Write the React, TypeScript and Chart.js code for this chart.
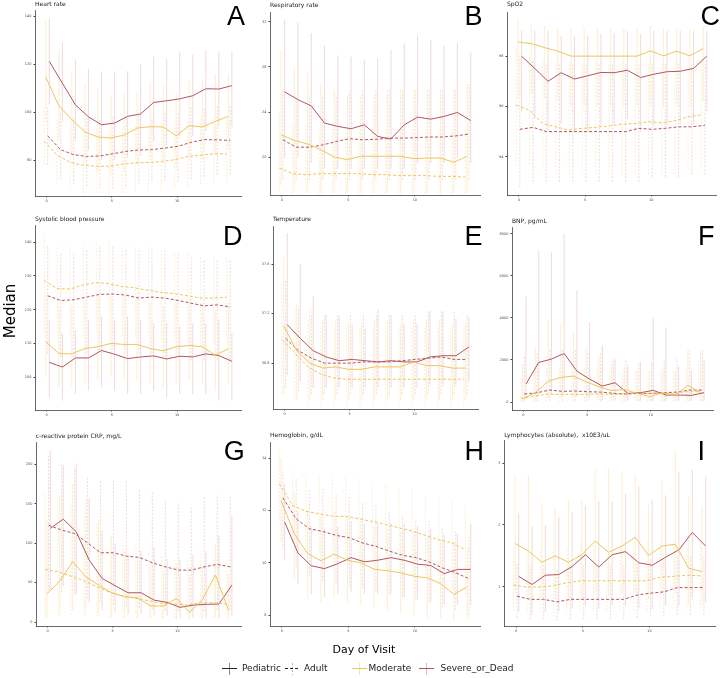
import React, { useEffect, useRef } from "react";
import { Chart, registerables } from "chart.js";

Chart.register(...registerables);

// ---------------- data ----------------
const DAYS = [0, 1, 2, 3, 4, 5, 6, 7, 8, 9, 10, 11, 12, 13, 14];
const X_TICKS = [0, 5, 10];

// A Heart rate
const hrPedSev = [121.1, 112, 103, 98, 94.7, 95.4, 98.2, 99.2, 104, 104.7, 105.5, 106.8, 109.7, 109.6, 111];
const hrPedSevHi = [139, 129, 122, 118, 117, 117, 117, 120, 123, 122, 125, 124, 126, 125, 125];
const hrPedSevLo = [103, 96, 88, 84, 80, 80, 81, 82, 88, 86, 90, 90, 92, 94, 94];
const hrPedMod = [114.6, 102.6, 96.8, 91.7, 89.6, 89.2, 90.4, 93.3, 93.9, 93.8, 90.1, 94.3, 93.8, 96.1, 98.2];
const hrPedModHi = [138, 126, 117, 112, 110, 107, 108, 108, 112, 111, 108, 113, 114, 116, 116];
const hrPedModLo = [96, 88, 82, 78, 75, 74, 75, 78, 80, 78, 76, 80, 80, 82, 84];
const hrAdSev = [90.1, 84.3, 82.2, 81.5, 81.7, 82.6, 83.6, 84.2, 84.3, 85, 85.7, 87.4, 88.5, 88.4, 88.2];
const hrAdSevHi = [102, 100, 98, 98, 97, 98, 98, 99, 99, 100, 100, 102, 102, 103, 103];
const hrAdSevLo = [78, 72, 70, 69, 68, 68, 69, 70, 71, 71, 71, 72, 73, 74, 74];
const hrAdMod = [87.8, 82, 79, 77.8, 77.4, 77.4, 78.3, 78.8, 79, 79.4, 80.1, 81.5, 82, 82.6, 82.6];
const hrAdModHi = [102, 97, 95, 94, 93, 93, 94, 94, 95, 95, 96, 97, 98, 98, 98];
const hrAdModLo = [78, 70, 68, 66, 66, 66, 66, 67, 67, 67, 68, 69, 70, 70, 70];
const hrTicks = [80, 100, 120, 140];

// B Respiratory rate
const rrPedSev = [25.8, 25.1, 24.56, 23.03, 22.74, 22.53, 22.88, 21.85, 21.62, 22.88, 23.56, 23.38, 23.62, 23.97, 23.26];
const rrPedSevHi = [32.2, 31.9, 31, 29.9, 29, 28.9, 28.6, 28.8, 29.5, 30.1, 30.8, 30.4, 29.9, 30.1, 29.3];
const rrPedSevLo = [20, 20, 19.5, 19, 19, 19, 19, 19, 19, 19, 19.5, 19.5, 19.5, 20, 19.5];
const rrPedMod = [22, 21.5, 21.18, 20.68, 20.03, 19.8, 20.1, 20.1, 20.1, 20.1, 19.88, 19.94, 19.94, 19.56, 20.1];
const rrPedModHi = [29.5, 28, 27.5, 26.5, 26, 25.5, 25.5, 25.5, 26, 26, 26, 26, 26, 26, 26.5];
const rrPedModLo = [17.5, 17, 17, 16.8, 16.8, 16.8, 16.8, 16.8, 16.8, 16.8, 16.8, 16.8, 16.8, 16.8, 16.8];
const rrAdSev = [21.56, 20.9, 20.9, 21.1, 21.4, 21.65, 21.56, 21.6, 21.7, 21.7, 21.74, 21.8, 21.8, 21.9, 22.06];
const rrAdSevHi = [26, 25.5, 25.5, 25.5, 25.5, 26, 26, 26, 26, 26, 26, 26, 26, 26, 26.5];
const rrAdSevLo = [18, 18, 18, 18, 18, 18, 18, 18, 18, 18, 18, 18, 18, 18, 18];
const rrAdMod = [19.06, 18.56, 18.47, 18.56, 18.56, 18.56, 18.56, 18.47, 18.47, 18.38, 18.38, 18.38, 18.32, 18.32, 18.26];
const rrAdModHi = [24, 23, 23, 22.5, 22.5, 22.5, 22.5, 22.5, 22.5, 22.5, 22.5, 22.5, 22.5, 22.5, 22.5];
const rrAdModLo = [17, 16.8, 16.8, 16.8, 16.8, 16.8, 16.8, 16.8, 16.8, 16.8, 16.8, 16.8, 16.8, 16.8, 16.8];
const rrTicks = [20, 24, 28, 32];

// C SpO2
const spPedMod = [98.56, 98.5, 98.34, 98.2, 98, 98, 98, 98, 98, 98, 98.21, 98.01, 98.2, 98.01, 98.3];
const spPedModHi = [99.5, 99.3, 99.2, 99.1, 99.1, 99.1, 99.1, 99.1, 99.1, 99.1, 99.2, 99.1, 99.1, 99.1, 99.2];
const spPedModLo = [96.3, 96.5, 96.3, 96.2, 96, 96, 96, 96, 96, 96, 96, 96, 96, 96, 96.2];
const spPedSev = [98, 97.51, 97, 97.34, 97.09, 97.22, 97.35, 97.34, 97.44, 97.15, 97.28, 97.38, 97.4, 97.51, 98];
const spPedSevHi = [99, 99, 99, 98.8, 98.8, 98.8, 98.9, 98.9, 99, 98.9, 99, 99, 99, 99, 99];
const spPedSevLo = [95.8, 95.5, 95, 95.3, 95, 95, 95.2, 95.3, 95.5, 95, 95.2, 95.2, 95.3, 95.3, 95.8];
const spAdMod = [96.05, 95.85, 95.32, 95.19, 95.06, 95.13, 95.17, 95.22, 95.3, 95.32, 95.39, 95.35, 95.43, 95.59, 95.66];
const spAdModHi = [98.3, 98, 97.8, 97.8, 97.8, 97.8, 97.8, 97.8, 97.8, 97.8, 97.8, 97.8, 97.9, 98, 98];
const spAdModLo = [93.8, 93.7, 93.5, 93.3, 93.3, 93.3, 93.3, 93.3, 93.3, 93.3, 93.3, 93.3, 93.3, 93.5, 93.5];
const spAdSev = [95.09, 95.17, 95, 95, 95, 95, 95, 95, 95, 95.13, 95.09, 95.13, 95.19, 95.19, 95.25];
const spAdSevHi = [98, 97.8, 97.7, 97.7, 97.7, 97.7, 97.7, 97.7, 97.7, 97.7, 97.7, 97.7, 97.7, 97.7, 97.8];
const spAdSevLo = [92.8, 93, 93, 93, 93, 93, 93, 93, 93, 93, 93.2, 93.2, 93.2, 93.3, 93.3];
const spTicks = [94, 96, 98];

// D Systolic blood pressure
const sbpAdMod = [128.6, 126.2, 126.1, 127.3, 128, 127.6, 126.8, 126.4, 125.7, 125.1, 124.7, 124.1, 123.4, 123.4, 123.7];
const sbpAdModHi = [143, 139, 139, 140, 140, 140, 139, 139, 139, 138, 137, 137, 136, 136, 136];
const sbpAdModLo = [113, 112, 112, 112, 113, 113, 112, 112, 112, 111, 111, 111, 110, 110, 110];
const sbpAdSev = [124.1, 122.7, 122.9, 123.7, 124.5, 124.6, 124.3, 123.4, 123.7, 123.4, 122.7, 121.9, 121.1, 121.4, 120.8];
const sbpAdSevHi = [139, 137, 137, 138, 139, 139, 138, 138, 138, 138, 137, 136, 135, 135, 135];
const sbpAdSevLo = [107, 106, 106, 107, 108, 108, 107, 107, 107, 106, 106, 105, 105, 105, 105];
const sbpPedMod = [110.5, 107, 106.9, 108.5, 109, 110, 109.7, 109.7, 108.5, 107.8, 109, 109.4, 109, 106.5, 108.4];
const sbpPedModHi = [125, 121, 121, 123, 124, 124, 124, 124, 122, 121, 122, 123, 122, 120, 122];
const sbpPedModLo = [100, 97, 97, 98, 99, 100, 99, 99, 98, 97, 98, 99, 98, 96, 98];
const sbpPedSev = [104.4, 103, 105.7, 105.7, 107.9, 106.8, 105.5, 106, 106.3, 105.4, 106.2, 106, 106.9, 106.4, 104.7];
const sbpPedSevHi = [117, 113, 114, 117, 118, 117, 118, 117, 116, 116, 115, 116, 116, 117, 113];
const sbpPedSevLo = [94, 93, 95, 96, 97, 96, 95, 95, 96, 94, 95, 95, 95, 93, 93];
const sbpTicks = [100, 110, 120, 130, 140];

// E Temperature
const tPedSev = [37.11, 37.0, 36.9, 36.85, 36.82, 36.83, 36.82, 36.81, 36.82, 36.81, 36.81, 36.85, 36.86, 36.86, 36.93];
const tPedSevHi = [37.85, 37.6, 37.34, 37.19, 37.18, 37.11, 37.08, 37.23, 37.19, 37.12, 37.12, 37.22, 37.22, 37.16, 37.17];
const tPedSevLo = [36.7, 36.65, 36.6, 36.6, 36.6, 36.6, 36.6, 36.6, 36.6, 36.6, 36.6, 36.62, 36.62, 36.62, 36.65];
const tPedMod = [37.1, 36.9, 36.8, 36.76, 36.77, 36.75, 36.75, 36.77, 36.77, 36.77, 36.81, 36.78, 36.78, 36.76, 36.76];
const tPedModHi = [37.66, 37.27, 37.23, 37.15, 37.15, 37.12, 37.12, 37.15, 37.15, 37.12, 37.15, 37.15, 37.15, 37.12, 37.12];
const tPedModLo = [36.55, 36.5, 36.5, 36.5, 36.5, 36.5, 36.5, 36.5, 36.5, 36.5, 36.5, 36.5, 36.5, 36.5, 36.5];
const tAdSev = [37.0, 36.9, 36.84, 36.8, 36.8, 36.8, 36.81, 36.81, 36.81, 36.82, 36.83, 36.84, 36.85, 36.83, 36.83];
const tAdSevHi = [37.47, 37.25, 37.2, 37.2, 37.2, 37.2, 37.2, 37.2, 37.2, 37.2, 37.2, 37.22, 37.22, 37.22, 37.2];
const tAdSevLo = [36.6, 36.57, 36.55, 36.55, 36.55, 36.55, 36.55, 36.55, 36.55, 36.55, 36.55, 36.55, 36.55, 36.55, 36.55];
const tAdMod = [36.99, 36.88, 36.77, 36.71, 36.68, 36.67, 36.67, 36.67, 36.67, 36.67, 36.67, 36.67, 36.67, 36.67, 36.67];
const tAdModHi = [37.45, 37.25, 37.15, 37.1, 37.1, 37.1, 37.1, 37.1, 37.1, 37.1, 37.1, 37.1, 37.1, 37.1, 37.1];
const tAdModLo = [36.55, 36.5, 36.45, 36.45, 36.45, 36.45, 36.45, 36.45, 36.45, 36.45, 36.45, 36.45, 36.45, 36.45, 36.45];
const tTicks = [36.8, 37.2, 37.6];

// F BNP
const bnpPedSev = [854, 1881, 2040, 2308, 1470, 1091, 759, 917, 411, 443, 553, 332, 332, 316, 443];
const bnpPedSevHi = [5000, 7200, 7100, 8000, 5300, 3800, 2700, 2050, 1700, 1900, 4000, 3550, 1700, 1500, 2000];
const bnpPedSevLo = [100, 300, 400, 400, 250, 200, 100, 100, 80, 60, 60, 60, 60, 60, 60];
const bnpPedMod = [158, 443, 980, 1170, 1233, 964, 727, 537, 601, 411, 253, 443, 316, 790, 443];
const bnpPedModHi = [1800, 2600, 3900, 3700, 3300, 2600, 2200, 1900, 1700, 1500, 1500, 1600, 1500, 2500, 2400];
const bnpPedModLo = [30, 60, 150, 200, 200, 150, 100, 80, 80, 60, 50, 60, 50, 80, 60];
const bnpAdSev = [379, 443, 569, 506, 522, 490, 474, 411, 379, 411, 411, 443, 474, 569, 569];
const bnpAdSevHi = [2200, 2300, 2500, 2500, 2500, 2400, 2300, 2100, 2000, 1900, 1900, 2000, 2100, 2400, 2500];
const bnpAdSevLo = [50, 50, 50, 50, 50, 50, 50, 50, 50, 50, 50, 50, 50, 50, 50];
const bnpAdMod = [158, 285, 364, 364, 364, 364, 379, 364, 379, 411, 411, 395, 395, 490, 490];
const bnpAdModHi = [1200, 1500, 1700, 1700, 1700, 1600, 1600, 1500, 1500, 1500, 1500, 1500, 1500, 1700, 1800];
const bnpAdModLo = [20, 20, 20, 20, 20, 20, 20, 20, 20, 20, 20, 20, 20, 20, 20];
const bnpTicks = [0, 2000, 4000, 6000, 8000];

// G CRP
const crpPedSev = [118.6, 130.4, 114.3, 78.5, 55.3, 46, 37.1, 37.1, 27.8, 24.9, 18.6, 21.5, 22.4, 22.8, 46.8];
const crpPedSevHi = [218, 199, 201, 157, 116, 100, 85, 90, 95, 80, 80, 85, 90, 110, 135];
const crpPedSevLo = [40, 45, 35, 25, 15, 12, 10, 10, 8, 8, 5, 5, 5, 5, 8];
const crpPedMod = [35.4, 51.9, 76.4, 57.4, 46.8, 37.1, 32.1, 30.8, 20.3, 20.3, 30, 12.2, 28.7, 59.5, 15.2];
const crpPedModHi = [130, 160, 175, 155, 130, 110, 90, 80, 70, 65, 75, 60, 70, 100, 60];
const crpPedModLo = [5, 8, 15, 10, 8, 6, 5, 5, 4, 4, 4, 3, 4, 6, 3];
const crpAdSev = [122.8, 116.5, 112.2, 100.4, 87.8, 87.8, 83.5, 81.9, 75.1, 70, 65.8, 65.8, 70, 73, 70];
const crpAdSevHi = [210, 200, 195, 185, 180, 180, 180, 168, 165, 155, 152, 145, 160, 162, 160];
const crpAdSevLo = [40, 38, 35, 30, 25, 22, 20, 18, 16, 15, 14, 14, 14, 15, 15];
const crpAdMod = [66.7, 63.7, 58.2, 52.3, 44.7, 37.6, 32.9, 30, 27, 23.6, 22.8, 21.5, 24.5, 24.5, 22.8];
const crpAdModHi = [165, 160, 150, 140, 125, 110, 100, 95, 90, 85, 80, 80, 90, 85, 80];
const crpAdModLo = [10, 10, 9, 8, 7, 6, 6, 5, 5, 5, 5, 5, 5, 5, 5];
const crpTicks = [0, 50, 100, 150, 200];

// H Hemoglobin
const hbAdMod = [13.02, 12.19, 11.97, 11.87, 11.78, 11.77, 11.68, 11.58, 11.47, 11.34, 11.21, 11.05, 10.88, 10.76, 10.5];
const hbAdModHi = [14.2, 13.5, 13.3, 13.3, 13.3, 13.3, 13.2, 13.1, 13.0, 12.9, 12.8, 12.6, 12.5, 12.4, 12.2];
const hbAdModLo = [11.6, 10.8, 10.6, 10.4, 10.3, 10.2, 10.1, 10.0, 9.8, 9.7, 9.5, 9.4, 9.2, 9.0, 8.8];
const hbAdSev = [12.48, 11.68, 11.3, 11.2, 11.05, 10.96, 10.76, 10.63, 10.45, 10.29, 10.2, 10.04, 9.81, 9.62, 9.4];
const hbAdSevHi = [13.5, 13.2, 12.8, 12.8, 12.6, 12.5, 12.3, 12.2, 12.0, 11.8, 11.7, 11.6, 11.3, 11.2, 11.0];
const hbAdSevLo = [10.5, 9.8, 9.5, 9.3, 9.2, 9.1, 9.0, 8.9, 8.8, 8.7, 8.6, 8.5, 8.3, 8.2, 8.0];
const hbPedMod = [12.38, 11.11, 10.36, 10.08, 10.33, 10.1, 10.0, 9.76, 9.7, 9.62, 9.49, 9.43, 9.21, 8.8, 9.08];
const hbPedModHi = [14, 12.7, 12, 11.8, 12, 11.7, 11.6, 11.4, 11.3, 11.2, 11.1, 11, 10.9, 10.8, 10.6];
const hbPedModLo = [10.8, 9.4, 8.6, 8.5, 8.7, 8.5, 8.4, 8.3, 8.2, 8.1, 8.0, 7.9, 7.9, 7.8, 7.9];
const hbPedSev = [11.56, 10.38, 9.89, 9.78, 9.97, 10.2, 10.04, 10.1, 10.2, 10.1, 9.95, 9.9, 9.59, 9.75, 9.75];
const hbPedSevHi = [13, 12, 11.4, 11.3, 11.4, 11.6, 11.5, 11.5, 11.5, 11.5, 11.4, 11.3, 11.1, 11.1, 11.5];
const hbPedSevLo = [10.1, 9.2, 8.8, 8.7, 8.8, 8.9, 8.8, 8.8, 8.8, 8.7, 8.6, 8.5, 8.4, 8.4, 8.4];
const hbTicks = [8, 10, 12, 14];

// I Lymphocytes
const lyPedMod = [1.7, 1.58, 1.4, 1.5, 1.4, 1.52, 1.74, 1.56, 1.66, 1.8, 1.51, 1.66, 1.69, 1.3, 1.25];
const lyPedModHi = [2.81, 2.81, 2.35, 2.28, 2.4, 2.4, 2.89, 2.91, 2.86, 2.81, 2.32, 2.7, 3.21, 2.46, 2.31];
const lyPedModLo = [0.9, 0.85, 0.8, 0.8, 0.8, 0.8, 0.9, 0.85, 0.9, 0.9, 0.8, 0.9, 0.9, 0.7, 0.7];
const lyPedSev = [1.17, 1.04, 1.19, 1.2, 1.33, 1.52, 1.32, 1.52, 1.57, 1.39, 1.35, 1.48, 1.6, 1.88, 1.66];
const lyPedSevHi = [2.19, 1.97, 2.0, 2.13, 2.21, 2.32, 2.38, 2.38, 2.51, 2.62, 2.4, 2.48, 2.86, 2.89, 2.78];
const lyPedSevLo = [0.6, 0.55, 0.6, 0.6, 0.65, 0.7, 0.65, 0.7, 0.7, 0.65, 0.65, 0.7, 0.7, 0.8, 0.75];
const lyAdMod = [1.03, 1.0, 1.0, 1.02, 1.07, 1.1, 1.1, 1.1, 1.1, 1.1, 1.1, 1.16, 1.17, 1.19, 1.18];
const lyAdModHi = [1.6, 1.6, 1.6, 1.6, 1.65, 1.7, 1.7, 1.7, 1.7, 1.7, 1.7, 1.75, 1.75, 1.75, 1.75];
const lyAdModLo = [0.6, 0.58, 0.58, 0.58, 0.6, 0.62, 0.62, 0.62, 0.62, 0.62, 0.62, 0.65, 0.65, 0.65, 0.65];
const lyAdSev = [0.85, 0.8, 0.8, 0.76, 0.8, 0.8, 0.8, 0.8, 0.8, 0.87, 0.9, 0.92, 0.99, 0.99, 0.99];
const lyAdSevHi = [1.4, 1.35, 1.35, 1.3, 1.35, 1.35, 1.35, 1.35, 1.35, 1.4, 1.45, 1.45, 1.5, 1.5, 1.5];
const lyAdSevLo = [0.5, 0.48, 0.48, 0.45, 0.48, 0.48, 0.48, 0.48, 0.48, 0.5, 0.52, 0.52, 0.55, 0.55, 0.55];
const lyTicks = [1, 2, 3];

// ---------------- style ----------------
const MOD = "#EEC55C";
const SEV = "#B0575D";
const MOD_ERR = "rgba(240, 200, 95, 0.28)";
const SEV_ERR = "rgba(176, 87, 93, 0.2)";
const FONT = "'DejaVu Sans', sans-serif";
const X_MIN = -0.9;
const X_MAX = 14.9;
const YW = 22;
const XH = 10;
const PT = 4;
const PR = 4;

type Series = { vals: number[]; lo: number[]; hi: number[] };
type PanelCfg = {
  title: string;
  letter: string;
  letterLeft: number;
  letterTop: number;
  rect: [number, number, number, number];
  titleTop: number;
  yMin: number;
  yMax: number;
  yTicks: number[];
  pedMod: Series;
  pedSev: Series;
  adMod: Series;
  adSev: Series;
};

const s = (vals: number[], lo: number[], hi: number[]): Series => ({ vals, lo, hi });

const PANELS: PanelCfg[] = [
  { title: "Heart rate", letter: "A", letterLeft: 227, letterTop: 3.2, rect: [35, 10, 241, 196], titleTop: 1, yMin: 65, yMax: 142.5, yTicks: hrTicks,
    pedMod: s(hrPedMod, hrPedModLo, hrPedModHi), pedSev: s(hrPedSev, hrPedSevLo, hrPedSevHi), adMod: s(hrAdMod, hrAdModLo, hrAdModHi), adSev: s(hrAdSev, hrAdSevLo, hrAdSevHi) },
  { title: "Respiratory rate", letter: "B", letterLeft: 464.6, letterTop: 3.2, rect: [270, 11.7, 479.7, 195], titleTop: 2, yMin: 16.67, yMax: 32.85, yTicks: rrTicks,
    pedMod: s(rrPedMod, rrPedModLo, rrPedModHi), pedSev: s(rrPedSev, rrPedSevLo, rrPedSevHi), adMod: s(rrAdMod, rrAdModLo, rrAdModHi), adSev: s(rrAdSev, rrAdSevLo, rrAdSevHi) },
  { title: "SpO2", letter: "C", letterLeft: 700.4, letterTop: 3.2, rect: [507, 12, 715.6, 195], titleTop: 1, yMin: 92.48, yMax: 99.75, yTicks: spTicks,
    pedMod: s(spPedMod, spPedModLo, spPedModHi), pedSev: s(spPedSev, spPedSevLo, spPedSevHi), adMod: s(spAdMod, spAdModLo, spAdModHi), adSev: s(spAdSev, spAdSevLo, spAdSevHi) },
  { title: "Systolic blood pressure", letter: "D", letterLeft: 222.9, letterTop: 223.2, rect: [35, 225, 241, 410], titleTop: 216, yMin: 90.3, yMax: 145, yTicks: sbpTicks,
    pedMod: s(sbpPedMod, sbpPedModLo, sbpPedModHi), pedSev: s(sbpPedSev, sbpPedSevLo, sbpPedSevHi), adMod: s(sbpAdMod, sbpAdModLo, sbpAdModHi), adSev: s(sbpAdSev, sbpAdSevLo, sbpAdSevHi) },
  { title: "Temperature", letter: "E", letterLeft: 464.6, letterTop: 223.2, rect: [273, 226, 478.4, 409.3], titleTop: 216, yMin: 36.43, yMax: 37.906, yTicks: tTicks,
    pedMod: s(tPedMod, tPedModLo, tPedModHi), pedSev: s(tPedSev, tPedSevLo, tPedSevHi), adMod: s(tAdMod, tAdModLo, tAdModHi), adSev: s(tAdSev, tAdSevLo, tAdSevHi) },
  { title: "BNP, pg/mL", letter: "F", letterLeft: 697.9, letterTop: 223.2, rect: [512, 226.7, 712.7, 410], titleTop: 217.5, yMin: -379, yMax: 8313, yTicks: bnpTicks,
    pedMod: s(bnpPedMod, bnpPedModLo, bnpPedModHi), pedSev: s(bnpPedSev, bnpPedSevLo, bnpPedSevHi), adMod: s(bnpAdMod, bnpAdModLo, bnpAdModHi), adSev: s(bnpAdSev, bnpAdSevLo, bnpAdSevHi) },
  { title: "c-reactive protein CRP, mg/L", letter: "G", letterLeft: 223.7, letterTop: 438.2, rect: [35.7, 441.7, 241, 626], titleTop: 432.6, yMin: -5, yMax: 228, yTicks: crpTicks,
    pedMod: s(crpPedMod, crpPedModLo, crpPedModHi), pedSev: s(crpPedSev, crpPedSevLo, crpPedSevHi), adMod: s(crpAdMod, crpAdModLo, crpAdModHi), adSev: s(crpAdSev, crpAdSevLo, crpAdSevHi) },
  { title: "Hemoglobin, g/dL", letter: "H", letterLeft: 464.6, letterTop: 438.2, rect: [270, 441.7, 479.7, 625.7], titleTop: 432.4, yMin: 7.59, yMax: 14.61, yTicks: hbTicks,
    pedMod: s(hbPedMod, hbPedModLo, hbPedModHi), pedSev: s(hbPedSev, hbPedSevLo, hbPedSevHi), adMod: s(hbAdMod, hbAdModLo, hbAdModHi), adSev: s(hbAdSev, hbAdSevLo, hbAdSevHi) },
  { title: "Lymphocytes (absolute),  x10E3/uL", letter: "I", letterLeft: 697.5, letterTop: 438.2, rect: [504.3, 440, 715.4, 626], titleTop: 432.4, yMin: 0.37, yMax: 3.37, yTicks: lyTicks,
    pedMod: s(lyPedMod, lyPedModLo, lyPedModHi), pedSev: s(lyPedSev, lyPedSevLo, lyPedSevHi), adMod: s(lyAdMod, lyAdModLo, lyAdModHi), adSev: s(lyAdSev, lyAdSevLo, lyAdSevHi) },
];

const GROUPS: { key: "adMod" | "pedMod" | "adSev" | "pedSev"; color: string; err: string; dash: boolean; off: number }[] = [
  { key: "adMod", color: MOD, err: MOD_ERR, dash: true, off: -0.2 },
  { key: "pedMod", color: MOD, err: MOD_ERR, dash: false, off: -0.07 },
  { key: "adSev", color: SEV, err: SEV_ERR, dash: true, off: 0.07 },
  { key: "pedSev", color: SEV, err: SEV_ERR, dash: false, off: 0.2 },
];

const errorBarPlugin = {
  id: "errorBars",
  beforeDatasetsDraw(chart: any) {
    const ctx = chart.ctx;
    const xs = chart.scales.x;
    const ys = chart.scales.y;
    chart.data.datasets.forEach((ds: any) => {
      if (!ds.errLo) return;
      ctx.save();
      ctx.strokeStyle = ds.errColor;
      ctx.lineWidth = 1.1;
      ctx.setLineDash(ds.errDash);
      ds.data.forEach((p: any, i: number) => {
        const x = xs.getPixelForValue(p.x);
        ctx.beginPath();
        ctx.moveTo(x, ys.getPixelForValue(ds.errLo[i]));
        ctx.lineTo(x, ys.getPixelForValue(ds.errHi[i]));
        ctx.stroke();
      });
      ctx.restore();
    });
  },
};

function Panel({ cfg }: { cfg: PanelCfg }) {
  const ref = useRef<HTMLCanvasElement>(null);
  const [L, T, R, B] = cfg.rect;
  const left = Math.round(L) - YW;
  const top = Math.round(T) - PT;
  const w = Math.round(R) - Math.round(L) + YW + PR;
  const h = Math.round(B) - Math.round(T) + PT + XH;

  useEffect(() => {
    if (!ref.current) return;
    const datasets = GROUPS.map((g) => {
      const ser = cfg[g.key];
      return {
        label: g.key,
        data: DAYS.map((d, i) => ({ x: d + g.off, y: ser.vals[i] })),
        borderColor: g.color,
        backgroundColor: g.color,
        borderWidth: 1,
        borderDash: g.dash ? [3, 2] : [],
        pointRadius: 0,
        tension: 0,
        fill: false,
        errLo: ser.lo,
        errHi: ser.hi,
        errColor: g.err,
        errDash: g.dash ? [2, 1.5] : [],
      };
    });
    const tickFont = { size: 3.5, family: FONT };
    const chart = new Chart(ref.current, {
      type: "line",
      data: { datasets } as any,
      options: {
        responsive: false,
        animation: false,
        layout: { padding: { top: PT, right: PR, left: 0, bottom: 0 } },
        plugins: { legend: { display: false }, tooltip: { enabled: false }, title: { display: false } },
        scales: {
          x: {
            type: "linear",
            min: X_MIN,
            max: X_MAX,
            afterFit: (sc: any) => { sc.height = XH; },
            afterBuildTicks: (sc: any) => { sc.ticks = X_TICKS.map((v) => ({ value: v })); },
            grid: { display: true, drawOnChartArea: false, drawTicks: true, tickLength: 1.5, color: "#444" },
            border: { display: true, color: "#444", width: 0.8 },
            ticks: { font: tickFont, color: "#4d4d4d", padding: 1, maxRotation: 0, autoSkip: false, callback: (v: any) => String(v) },
          },
          y: {
            type: "linear",
            min: cfg.yMin,
            max: cfg.yMax,
            afterFit: (sc: any) => { sc.width = YW; },
            afterBuildTicks: (sc: any) => { sc.ticks = cfg.yTicks.map((v) => ({ value: v })); },
            grid: { display: true, drawOnChartArea: false, drawTicks: true, tickLength: 1.5, color: "#444" },
            border: { display: true, color: "#444", width: 0.8 },
            ticks: { font: tickFont, color: "#4d4d4d", padding: 2, autoSkip: false, callback: (v: any) => String(v) },
          },
        },
      } as any,
      plugins: [errorBarPlugin],
    });
    return () => chart.destroy();
  }, []);

  return (
    <>
      <canvas ref={ref} width={w} height={h} style={{ position: "absolute", left, top, width: w, height: h }} />
      <div style={{ position: "absolute", left: L, top: cfg.titleTop, fontFamily: FONT, fontSize: 6, lineHeight: "6px", color: "#1a1a1a", whiteSpace: "pre" }}>
        {cfg.title}
      </div>
      <div style={{ position: "absolute", left: cfg.letterLeft, top: cfg.letterTop, fontFamily: "'Liberation Sans', Arial, sans-serif", fontSize: 27, lineHeight: "27px", color: "#000" }}>
        {cfg.letter}
      </div>
    </>
  );
}

const LEGEND = [
  { label: "Pediatric", color: "#222", vcolor: "rgba(0,0,0,0.45)", dash: false, cx: 229.5, tx: 242 },
  { label: "Adult", color: "#222", vcolor: "rgba(0,0,0,0.3)", dash: true, cx: 292.5, tx: 304 },
  { label: "Moderate", color: MOD, vcolor: "rgba(240,200,95,0.5)", dash: false, cx: 359, tx: 368.5 },
  { label: "Severe_or_Dead", color: SEV, vcolor: "rgba(176,87,93,0.4)", dash: false, cx: 426, tx: 440.5 },
];

function dashedH(color: string) {
  return `repeating-linear-gradient(to right, ${color} 0px, ${color} 3px, transparent 3px, transparent 5px)`;
}
function dashedV(color: string) {
  return `repeating-linear-gradient(to bottom, ${color} 0px, ${color} 2px, transparent 2px, transparent 3.5px)`;
}

export default function App() {
  return (
    <div style={{ position: "absolute", left: 0, top: 0, width: 720, height: 678, background: "#fff", overflow: "hidden" }}>
      {PANELS.map((p) => (
        <Panel key={p.letter} cfg={p} />
      ))}
      <div style={{ position: "absolute", left: -40, top: 302, width: 100, textAlign: "center", fontFamily: FONT, fontSize: 15, lineHeight: "18px", color: "#000", transform: "rotate(-90deg)" }}>
        Median
      </div>
      <div style={{ position: "absolute", left: 264, top: 644, width: 200, textAlign: "center", fontFamily: FONT, fontSize: 11, lineHeight: "11px", color: "#000" }}>
        Day of Visit
      </div>
      {LEGEND.map((it) => (
        <React.Fragment key={it.label}>
          <div style={{ position: "absolute", left: Math.round(it.cx - 7.5), top: 668, width: 15, height: 1, background: it.dash ? dashedH(it.color) : it.color }} />
          <div style={{ position: "absolute", left: Math.round(it.cx - 0.5), top: 663, width: 1, height: 12, background: it.dash ? dashedV(it.vcolor) : it.vcolor }} />
          <div style={{ position: "absolute", left: it.tx, top: 664, fontFamily: FONT, fontSize: 9, lineHeight: "9px", color: "#222", whiteSpace: "pre" }}>
            {it.label}
          </div>
        </React.Fragment>
      ))}
    </div>
  );
}
